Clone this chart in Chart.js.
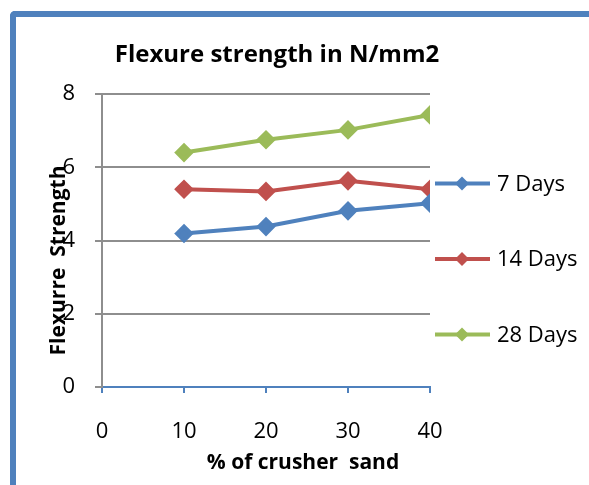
<!DOCTYPE html>
<html>
<head>
<meta charset="utf-8">
<script src="https://cdn.jsdelivr.net/npm/chart.js@4/dist/chart.umd.min.js"></script>
<style>
  body { margin: 0; background: #fff; }
  #frame {
    position: absolute; left: 10px; top: 11px; width: 620px; height: 520px;
    border-left: 6px solid #4F81BD; border-top: 6px solid #4F81BD;
    border-top-left-radius: 5px;
  }
  #flex_chart { position: absolute; left: 0; top: 0; }
</style>
</head>
<body>
<div id="frame"></div>
<canvas id="flex_chart" width="589" height="485"></canvas>
<script>
const sandPercent = [10, 20, 30, 40];
const days7 = [4.19, 4.38, 4.81, 5.02];
const days14 = [5.40, 5.34, 5.63, 5.40];
const days28 = [6.40, 6.75, 7.02, 7.43];
const seriesNames = ["7 Days", "14 Days", "28 Days"];
const seriesColors = ["#4F81BD", "#C0504D", "#9BBB59"];
const chartTitle = "Flexure strength in N/mm2";
const xTitle = "% of crusher  sand";
const yTitle = "Flexurre  Strength";

const cxt = document.getElementById("flex_chart");
const font = "'Open Sans', 'DejaVu Sans', sans-serif";

const makeSet = (name, values, color) => ({
  label: name,
  data: values.map((v, i) => ({ x: sandPercent[i], y: v })),
  borderColor: color,
  backgroundColor: color,
  borderWidth: 4,
  pointStyle: "rectRot",
  pointRadius: 7,
  pointHoverRadius: 7,
  tension: 0,
});

// title, axis titles and the line+diamond legend, drawn next to the plot area
const extras = {
  id: "extras",
  afterDraw(chart) {
    const ctx = chart.ctx;
    const area = chart.chartArea;
    ctx.save();
    ctx.fillStyle = "#000";
    ctx.textBaseline = "middle";

    ctx.textAlign = "center";
    ctx.font = `bold 24px ${font}`;
    ctx.fillText(chartTitle, 277, 55);

    ctx.font = `bold 21px ${font}`;
    ctx.fillText(xTitle, (area.left + area.right) / 2 + 37, area.bottom + 76);

    ctx.save();
    ctx.translate(area.left - 43, (area.top + area.bottom) / 2 + 20);
    ctx.rotate(-Math.PI / 2);
    ctx.fillText(yTitle, 0, 0);
    ctx.restore();

    ctx.textAlign = "left";
    ctx.font = `22px ${font}`;
    chart.data.datasets.forEach((ds, i) => {
      const y = (area.top + area.bottom) / 2 - 57 + i * 75.5;
      const x0 = area.right + 5;
      ctx.strokeStyle = ds.borderColor;
      ctx.lineWidth = 4;
      ctx.beginPath();
      ctx.moveTo(x0, y);
      ctx.lineTo(x0 + 55, y);
      ctx.stroke();
      ctx.fillStyle = ds.borderColor;
      ctx.beginPath();
      const cx = x0 + 27, r = 7;
      ctx.moveTo(cx, y - r);
      ctx.lineTo(cx + r, y);
      ctx.lineTo(cx, y + r);
      ctx.lineTo(cx - r, y);
      ctx.closePath();
      ctx.fill();
      ctx.fillStyle = "#000";
      ctx.fillText(ds.label, x0 + 62, y + 1);
    });
    ctx.restore();
  },
};

new Chart(cxt, {
  type: "line",
  data: {
    datasets: [
      makeSet(seriesNames[0], days7, seriesColors[0]),
      makeSet(seriesNames[1], days14, seriesColors[1]),
      makeSet(seriesNames[2], days28, seriesColors[2]),
    ],
  },
  options: {
    responsive: false,
    animation: false,
    layout: { padding: { top: 94, right: 159, bottom: 0, left: 0 } },
    plugins: {
      legend: { display: false },
      title: { display: false },
      tooltip: { enabled: false },
    },
    scales: {
      x: {
        type: "linear",
        min: 0,
        max: 40,
        ticks: { stepSize: 10, color: "#000", font: { family: font, size: 22 }, padding: 26 },
        grid: { drawOnChartArea: false, drawTicks: true, tickLength: 6, color: "#4F81BD", lineWidth: 2 },
        border: { color: "#4F81BD", width: 2 },
        afterFit: (scale) => { scale.height = 98; },
      },
      y: {
        min: 0,
        max: 8,
        ticks: { stepSize: 2, color: "#000", font: { family: font, size: 22 }, padding: 20 },
        grid: { color: "#8E8E8E", lineWidth: 2, tickLength: 7 },
        border: { color: "#8E8E8E", width: 2 },
        afterFit: (scale) => { scale.width = 102; },
      },
    },
  },
  plugins: [extras],
});
</script>
</body>
</html>
